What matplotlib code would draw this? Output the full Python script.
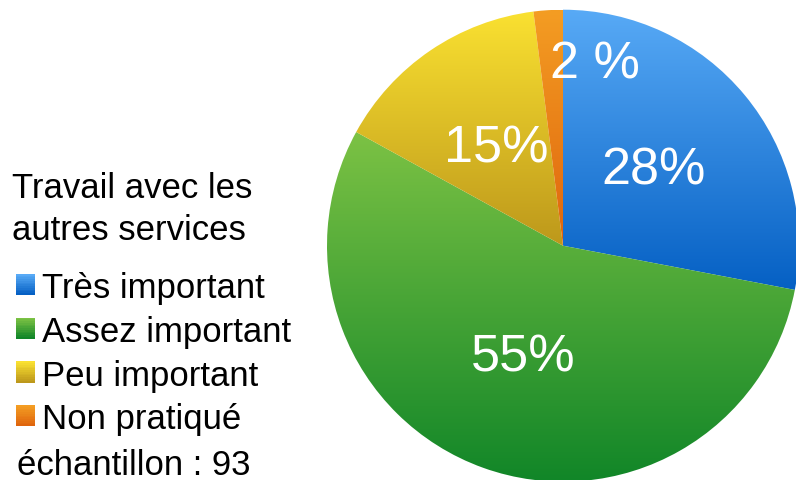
import matplotlib
matplotlib.use('Agg')
import matplotlib.pyplot as plt
import numpy as np
from matplotlib.patches import Patch, Rectangle
from matplotlib.legend_handler import HandlerBase

plt.rcParams['font.family'] = ['Liberation Sans', 'DejaVu Sans']

# ---------------------------------- data ---------------------------------- #

categories = ['Très important', 'Assez important', 'Peu important', 'Non pratiqué']
values = [28, 55, 15, 2]
pct_labels = ['28%', '55%', '15%', '2 %']
title = ['Travail avec les', 'autres services']
sample = 'échantillon : 93'

# gradient colours (top, bottom) per slice
top_colors = ['#58aaf6', '#7cc244', '#fae131', '#f49d23']
bottom_colors = ['#0560c4', '#118628', '#bd981b', '#df650d']

W, H = 796, 481
fig = plt.figure(figsize=(W / 100, H / 100), dpi=100)
ax = fig.add_axes([0, 0, 1, 1])


def grad(c1, c2, n=256):
    a = np.array(matplotlib.colors.to_rgb(c1))
    b = np.array(matplotlib.colors.to_rgb(c2))
    t = np.linspace(0, 1, n)[:, None]
    return (a * (1 - t) + b * t)[:, None, :]


# ---------------------------------- pie ---------------------------------- #

cx, cy, R = 563, H - 246.7, 236
lab_iter = iter(pct_labels)
wedges, texts, autotexts = ax.pie(
    values, startangle=90, counterclock=False, center=(cx, cy), radius=R,
    autopct=lambda p: next(lab_iter), pctdistance=0.5,
    wedgeprops=dict(facecolor='none', edgecolor='none'),
    textprops=dict(color='white', fontsize=37.5))

for w, c1, c2 in zip(wedges, top_colors, bottom_colors):
    ext = w.get_path().get_extents()
    im = ax.imshow(grad(c1, c2), extent=(ext.x0, ext.x1, ext.y0, ext.y1),
                   origin='upper', aspect='auto', interpolation='bilinear', zorder=1)
    im.set_clip_path(w)

# small slice label sits further out
ang = np.deg2rad(80)
autotexts[3].set_position((cx + 0.78 * R * np.cos(ang), cy + 0.78 * R * np.sin(ang)))
for t in autotexts:
    t.set_zorder(3)

ax.set_xlim(0, W)
ax.set_ylim(0, H)
ax.set_aspect('auto')
ax.axis('off')

# --------------------------------- legend --------------------------------- #


class GradientHandler(HandlerBase):
    def __init__(self, c1, c2):
        super().__init__()
        self.c1, self.c2 = c1, c2

    def create_artists(self, legend, orig_handle, xdescent, ydescent,
                       width, height, fontsize, trans):
        cols = grad(self.c1, self.c2, 12)[:, 0, :]
        n = len(cols)
        arts = []
        for i, c in enumerate(cols):
            r = Rectangle((-xdescent, -ydescent + height * (n - 1 - i) / n),
                          width, height / n + 0.3, facecolor=c, edgecolor='none',
                          antialiased=False, transform=trans)
            arts.append(r)
        return arts


handles = [Patch(label=c) for c in categories]
hmap = {h: GradientHandler(c1, c2) for h, c1, c2 in zip(handles, top_colors, bottom_colors)}
fig.legend(handles=handles, handler_map=hmap, loc='upper left',
           bbox_to_anchor=(16 / W, 1 - 272 / H), frameon=False, fontsize=25,
           borderpad=0, borderaxespad=0, handlelength=0.55, handleheight=0.55,
           handletextpad=0.2, labelspacing=0.31)

fig.text(12 / W, 1 - 198 / H, title[0], fontsize=25, va='baseline')
fig.text(12 / W, 1 - 240 / H, title[1], fontsize=25, va='baseline')
fig.text(17 / W, 1 - 475 / H, sample, fontsize=25, va='baseline')

fig.savefig('out.png', dpi=100)
